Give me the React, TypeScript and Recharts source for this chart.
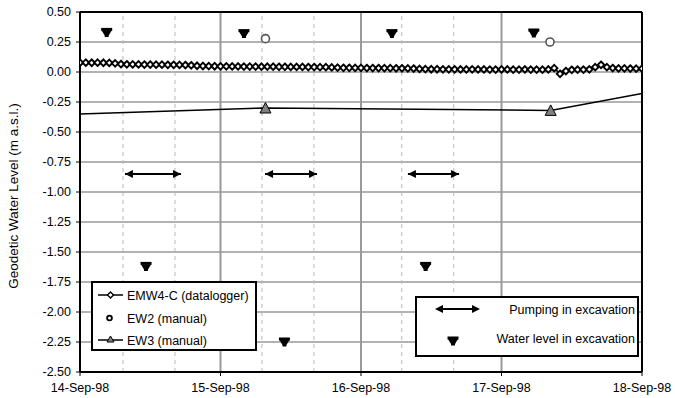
import React from 'react';
import { ComposedChart, Line, XAxis, YAxis, CartesianGrid, ReferenceLine } from 'recharts';

const FONT = '"Liberation Sans", Arial, sans-serif';

// x values are days after 14-Sep-98 00:00
const dayTicks = [0, 1, 2, 3, 4];
const dayLabels = ['14-Sep-98', '15-Sep-98', '16-Sep-98', '17-Sep-98', '18-Sep-98'];
const levelTicks = [0.5, 0.25, 0, -0.25, -0.5, -0.75, -1, -1.25, -1.5, -1.75, -2, -2.25, -2.5];

// EMW4-C datalogger, hourly readings (m a.s.l.)
const loggerLevels = [
  0.078, 0.078, 0.077, 0.078, 0.077, 0.076, 0.072, 0.066, 0.064, 0.063, 0.063, 0.062,
  0.062, 0.061, 0.061, 0.06, 0.06, 0.059, 0.058, 0.056, 0.052, 0.05, 0.049, 0.048,
  0.047, 0.047, 0.046, 0.046, 0.045, 0.045, 0.045, 0.044, 0.044, 0.044, 0.043, 0.043,
  0.042, 0.042, 0.042, 0.041, 0.041, 0.04, 0.04, 0.038, 0.036, 0.035, 0.035, 0.034,
  0.034, 0.033, 0.033, 0.033, 0.032, 0.032, 0.031, 0.031, 0.03, 0.029, 0.026, 0.024,
  0.023, 0.023, 0.022, 0.022, 0.022, 0.021, 0.021, 0.022, 0.021, 0.021, 0.02, 0.02,
  0.021, 0.021, 0.02, 0.02, 0.021, 0.02, 0.02, 0.019, 0.021, 0.032, -0.015, 0.008,
  0.018, 0.02, 0.02, 0.022, 0.04, 0.06, 0.04, 0.033, 0.03, 0.03, 0.029, 0.028,
  0.028,
];

// EW2 manual readings
const ew2Days = [1.32, 3.345];
const ew2Levels = [0.278, 0.25];

// EW3 manual readings (first and last only carry the line to the axis edges)
const ew3Days = [0, 1.32, 3.35, 4];
const ew3Levels = [-0.35, -0.3, -0.32, -0.18];

// water level in excavation
const pitDays = [0.19, 0.47, 1.167, 1.455, 2.22, 2.46, 3.23];
const pitLevels = [0.33, -1.62, 0.32, -2.25, 0.32, -1.62, 0.325];

// pumping periods
const pumpStart = [0.32, 1.317, 2.334];
const pumpEnd = [0.719, 1.687, 2.698];
const pumpLevel = -0.85;

// working hours markers
const shiftDays = [0.306, 0.676, 1.295, 1.665, 2.29, 2.66];

const loggerData = loggerLevels.map((level, i) => ({ day: i / 24, level }));
const ew2Data = ew2Days.map((day, i) => ({ day, level: ew2Levels[i] }));
const ew3Data = ew3Days.map((day, i) => ({ day, level: ew3Levels[i], mark: i > 0 && i < ew3Days.length - 1 }));
const pitData = pitDays.map((day, i) => ({ day, level: pitLevels[i] }));
const pumpData = pumpStart.map((start, i) => [
  { day: start, level: pumpLevel },
  { day: pumpEnd[i], level: pumpLevel },
]);

const Diamond = (props: any) => {
  const { cx, cy, index } = props;
  return (
    <path
      key={`d-${index}`}
      d={`M${cx},${cy - 3.3}L${cx + 3.3},${cy}L${cx},${cy + 3.3}L${cx - 3.3},${cy}Z`}
      fill="#fff"
      stroke="#000"
      strokeWidth={1.9}
    />
  );
};

const Circle = (props: any) => {
  const { cx, cy, index } = props;
  return <circle key={`c-${index}`} cx={cx} cy={cy} r={4} fill="#fff" stroke="#555" strokeWidth={1.6} />;
};

const Triangle = (props: any) => {
  const { cx, cy, index, payload } = props;
  if (!payload || !payload.mark) return <g key={`t-${index}`} />;
  return (
    <path
      key={`t-${index}`}
      d={`M${cx},${cy - 5.5}L${cx + 5.5},${cy + 5}L${cx - 5.5},${cy + 5}Z`}
      fill="#808080"
      stroke="#000"
      strokeWidth={1}
    />
  );
};

const PitMark = ({ cx, cy }: { cx: number; cy: number }) => (
  <g>
    <rect x={cx - 5.5} y={cy - 4.5} width={11} height={3} fill="#000" />
    <path d={`M${cx - 5},${cy - 2}L${cx + 5},${cy - 2}L${cx + 2},${cy + 3}L${cx + 2},${cy + 4.5}L${cx - 2},${cy + 4.5}L${cx - 2},${cy + 3}Z`} fill="#000" />
  </g>
);

const PitDot = (props: any) => (
  <g key={`p-${props.index}`}>
    <PitMark cx={props.cx} cy={props.cy} />
  </g>
);

const ArrowHead = (props: any) => {
  const { cx, cy, index } = props;
  const dir = index === 0 ? 1 : -1;
  return (
    <path
      key={`a-${index}`}
      d={`M${cx},${cy}L${cx + dir * 8},${cy - 4}L${cx + dir * 8},${cy + 4}Z`}
      fill="#000"
    />
  );
};

const Legends = () => (
  <svg width={675} height={398} style={{ position: 'absolute', left: 0, top: 0, pointerEvents: 'none' }}>
    <g fontFamily={FONT} fontSize={12.5} fill="#000">
      <rect x={92} y={282} width={164} height={68} fill="#fff" stroke="#000" strokeWidth={2} />
      <line x1={98} y1={295} x2={123} y2={295} stroke="#000" strokeWidth={1.5} />
      <path d="M110.5,292L113.5,295L110.5,298L107.5,295Z" fill="#fff" stroke="#000" strokeWidth={1.4} />
      <text x={127} y={299.5}>EMW4-C (datalogger)</text>
      <circle cx={109.5} cy={318} r={2.4} fill="#fff" stroke="#000" strokeWidth={1.8} />
      <text x={127} y={322.5}>EW2 (manual)</text>
      <line x1={98} y1={340} x2={123} y2={340} stroke="#000" strokeWidth={1.5} />
      <path d="M110.5,336L114,342L107,342Z" fill="#808080" stroke="#000" strokeWidth={1} />
      <text x={127} y={344.5}>EW3 (manual)</text>

      <rect x={416} y={297} width={222} height={59} fill="#fff" stroke="#000" strokeWidth={2} />
      <line x1={440} y1={309} x2={475} y2={309} stroke="#000" strokeWidth={2} />
      <path d="M435,309L443,305L443,313Z" fill="#000" />
      <path d="M480,309L472,305L472,313Z" fill="#000" />
      <text x={635} y={313.5} textAnchor="end">Pumping in excavation</text>
      <PitMark cx={453} cy={341} />
      <text x={635} y={342.5} textAnchor="end">Water level in excavation</text>
    </g>
  </svg>
);

export default function App() {
  return (
    <div style={{ position: 'absolute', left: 0, top: 0, width: 675, height: 398, background: '#fff' }}>
      <ComposedChart
        width={675}
        height={398}
        margin={{ top: 12, right: 33, bottom: 6, left: 0 }}
        style={{ fontFamily: FONT }}
      >
        <CartesianGrid horizontal vertical={false} stroke="#999" strokeWidth={1.3} />
        <XAxis
          type="number"
          dataKey="day"
          domain={[0, 4]}
          ticks={dayTicks}
          tickFormatter={(v: number) => dayLabels[dayTicks.indexOf(v)] ?? ''}
          height={20}
          tickSize={4}
          tickMargin={7}
          axisLine={{ stroke: '#000', strokeWidth: 2 }}
          tickLine={{ stroke: '#000' }}
          tick={{ fill: '#000', fontSize: 12.5 }}
          allowDataOverflow
        />
        <YAxis
          type="number"
          domain={[-2.5, 0.5]}
          ticks={levelTicks}
          tickFormatter={(v: number) => v.toFixed(2)}
          width={80}
          tickSize={4}
          tickMargin={5}
          axisLine={{ stroke: '#000', strokeWidth: 2 }}
          tickLine={{ stroke: '#000' }}
          tick={{ fill: '#000', fontSize: 12.5 }}
          allowDataOverflow
          label={{
            value: 'Geodetic Water Level (m a.s.l.)',
            angle: -90,
            position: 'insideLeft',
            offset: 13,
            dy: 4,
            style: { textAnchor: 'middle', fill: '#000', fontSize: 13.5 },
          }}
        />
        {shiftDays.map((d) => (
          <ReferenceLine key={`s-${d}`} x={d} stroke="#b8b8b8" strokeDasharray="4 4" strokeWidth={1} />
        ))}
        {[1, 2, 3].map((d) => (
          <ReferenceLine key={`g-${d}`} x={d} stroke="#999" strokeWidth={2} />
        ))}
        <ReferenceLine y={0.5} stroke="#000" strokeWidth={2} />
        <ReferenceLine x={4} stroke="#000" strokeWidth={2} />

        <Line
          data={ew3Data}
          dataKey="level"
          type="linear"
          stroke="#000"
          strokeWidth={1.5}
          dot={Triangle}
          activeDot={false}
          isAnimationActive={false}
        />
        <Line
          data={loggerData}
          dataKey="level"
          type="linear"
          stroke="#000"
          strokeWidth={1.5}
          dot={Diamond}
          activeDot={false}
          isAnimationActive={false}
        />
        <Line
          data={ew2Data}
          dataKey="level"
          stroke="none"
          dot={Circle}
          activeDot={false}
          isAnimationActive={false}
        />
        <Line
          data={pitData}
          dataKey="level"
          stroke="none"
          dot={PitDot}
          activeDot={false}
          isAnimationActive={false}
        />
        {pumpData.map((seg, i) => (
          <Line
            key={`pump-${i}`}
            data={seg}
            dataKey="level"
            type="linear"
            stroke="#000"
            strokeWidth={2}
            dot={ArrowHead}
            activeDot={false}
            isAnimationActive={false}
          />
        ))}
      </ComposedChart>
      <Legends />
    </div>
  );
}
